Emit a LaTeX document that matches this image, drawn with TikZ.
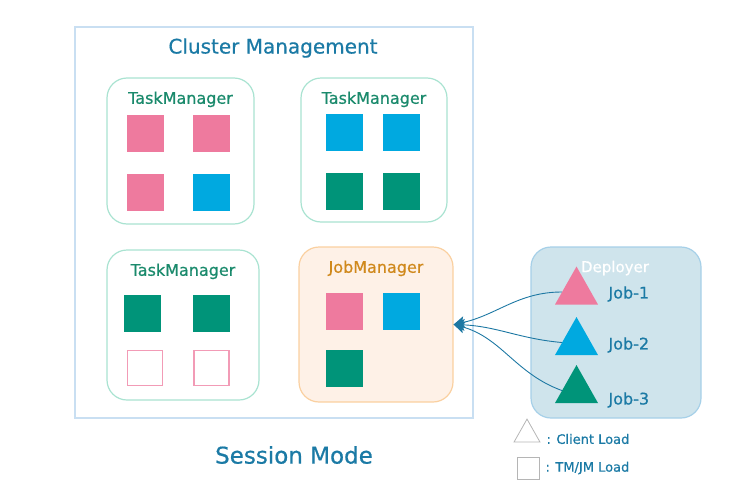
\documentclass[tikz,border=0pt]{standalone}
\usepackage{fontspec}
\setmainfont{DejaVu Sans}[FakeBold=0.6]
\usetikzlibrary{arrows.meta,positioning,shapes.geometric}
\definecolor{titleblue}{HTML}{1B7AA5}
\definecolor{clusterline}{HTML}{C9DFF2}
\definecolor{tmline}{HTML}{A9E3D1}
\definecolor{tmtext}{HTML}{1A8A6C}
\definecolor{slotpink}{HTML}{EE7A9E}
\definecolor{slotblue}{HTML}{00A9E0}
\definecolor{slotgreen}{HTML}{009479}
\definecolor{jmfill}{HTML}{FEF1E7}
\definecolor{jmline}{HTML}{FAD0A0}
\definecolor{jmtext}{HTML}{D0891C}
\definecolor{depfill}{HTML}{CFE4EC}
\definecolor{depline}{HTML}{A6D0E8}
\definecolor{arrowblue}{HTML}{1D78A3}
\definecolor{legendgray}{HTML}{B5B5B5}

\begin{document}
\begin{tikzpicture}[x=1pt, y=-1pt]
\tikzset{tmbox/.style={draw=tmline, line width=1.2pt, rounded corners=20pt, fill=white}, tmlabel/.style={text=tmtext, inner sep=0pt, font={\fontsize{16pt}{18pt}\selectfont}}, slot/.style={minimum size=37pt, inner sep=0pt, draw=none}, emptyslot/.style={slot, draw=slotpink!75, fill=white, line width=1.2pt, minimum size=35pt}, jobtri/.style={isosceles triangle, isosceles triangle stretches, shape border rotate=90, minimum width=43pt, minimum height=38pt, inner sep=0pt}, joblabel/.style={anchor=west, text=titleblue, font={\fontsize{16pt}{18pt}\selectfont}}, jobarrow/.style={-{Stealth[length=11pt, width=12pt, inset=2.5pt]}, arrowblue, line width=0.9pt}, legendtext/.style={anchor=west, text=titleblue, font={\fontsize{13pt}{15pt}\selectfont}}}
\useasboundingbox (0,0) rectangle (739,498);
\node[draw=clusterline, line width=1.2pt, minimum width=398pt, minimum height=391pt] (cluster) at (274,222.5) {};
\node[text=titleblue, font={\fontsize{20pt}{24pt}\selectfont}] (clustertitle) at (273,48) {Cluster Management};
\node[tmbox, minimum width=147pt, minimum height=146pt] (tm1) at (180.5,151) {};
\node[tmlabel, below=14pt of tm1.north] (tm1label) {TaskManager};
\node[tmbox, minimum width=146pt, minimum height=144pt] (tm2) at (374,150) {};
\node[tmlabel, below=14pt of tm2.north] (tm2label) {TaskManager};
\node[tmbox, minimum width=152pt, minimum height=150pt] (tm3) at (183,325) {};
\node[tmlabel, below=14pt of tm3.north] (tm3label) {TaskManager};
\node[tmbox, draw=jmline, fill=jmfill, minimum width=154pt, minimum height=155pt] (jm) at (376,324.5) {};
\node[tmlabel, text=jmtext, below=14pt of jm.north] (jmlabel) {JobManager};
\node[slot, fill=slotpink] (tm1a) at (145,133.5) {};
\node[slot, fill=slotpink] (tm1b) at (211.5,133.5) {};
\node[slot, fill=slotpink] (tm1c) at (145,192.5) {};
\node[slot, fill=slotblue] (tm1d) at (211.5,192.5) {};
\node[slot, fill=slotblue] (tm2a) at (344,132) {};
\node[slot, fill=slotblue] (tm2b) at (401.5,132) {};
\node[slot, fill=slotgreen] (tm2c) at (344,191.5) {};
\node[slot, fill=slotgreen] (tm2d) at (401.5,191.5) {};
\node[slot, fill=slotgreen] (tm3a) at (142.5,313.5) {};
\node[slot, fill=slotgreen] (tm3b) at (211.5,313.5) {};
\node[emptyslot] (tm3c) at (145,368) {};
\node[emptyslot] (tm3d) at (211.5,368) {};
\node[slot, fill=slotpink] (jma) at (344,311.5) {};
\node[slot, fill=slotblue] (jmb) at (401.5,311.5) {};
\node[slot, fill=slotgreen] (jmc) at (344,368) {};
\node[draw=depline, fill=depfill, line width=1.2pt, rounded corners=20pt, minimum width=170pt, minimum height=171pt] (deployer) at (616,332.5) {};
\node[text=white, font={\fontsize{15pt}{18pt}\selectfont}] (deplabel) at (615,268) {Deployer};
\node[jobtri, fill=slotpink] (job1) at (576.5,292) {};
\node[jobtri, fill=slotblue] (job2) at (576.5,342.5) {};
\node[jobtri, fill=slotgreen] (job3) at (576.5,390.5) {};
\node[joblabel] (job1label) at (605,294) {Job-1};
\node[joblabel] (job2label) at (605,345) {Job-2};
\node[joblabel] (job3label) at (605,400) {Job-3};
\draw[jobarrow] (job1.west) to[out=180, in=12] (jm.east);
\draw[jobarrow] (job2.west) to[out=175, in=-2] (jm.east);
\draw[jobarrow] (job3.west) to[out=160, in=-15] (jm.east);
\node[isosceles triangle, isosceles triangle stretches, shape border rotate=90, minimum width=26pt, minimum height=23pt, inner sep=0pt, draw=legendgray, line width=0.8pt] (legtri) at (527,434.5) {};
\node[legendtext] (legtrilabel) at (543,439) {: Client Load};
\node[draw=legendgray, line width=0.8pt, minimum size=22pt, inner sep=0pt] (legsq) at (528,468) {};
\node[legendtext] (legsqlabel) at (542,468) {: TM/JM Load};
\node[text=titleblue, font={\fontsize{23pt}{27pt}\selectfont}] (modetitle) at (294,455) {Session Mode};
\end{tikzpicture}
\end{document}
